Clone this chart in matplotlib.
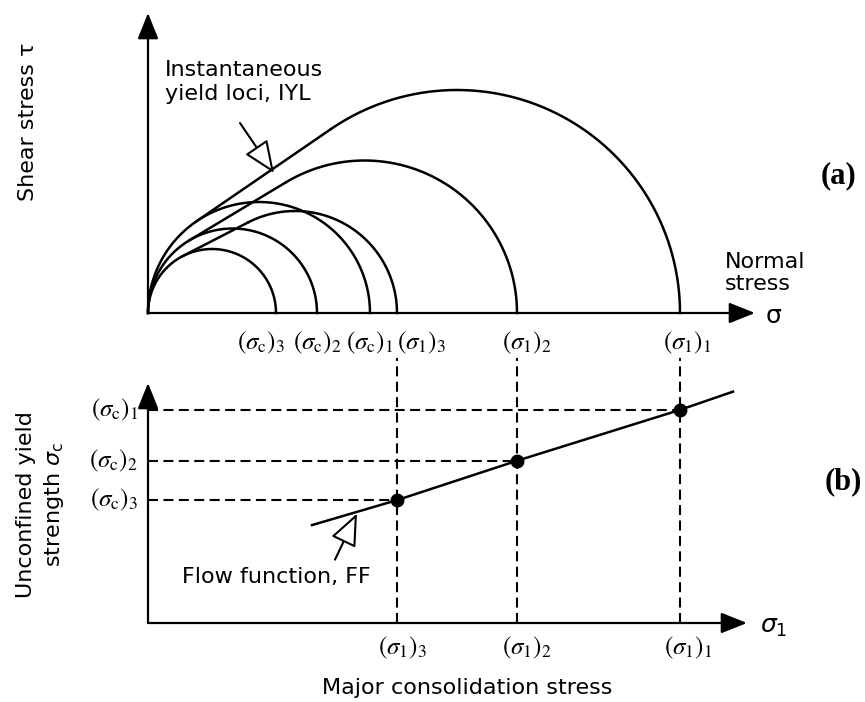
import numpy as np
import matplotlib
matplotlib.use("Agg")
import matplotlib.pyplot as plt

# ---------------- data (arbitrary stress units) ----------------
idx = ["1", "2", "3"]
sigma_c = [22.2, 16.9, 12.8]        # unconfined yield strengths (σc)1..3
sigma_1 = [53.2, 36.9, 24.9]        # major consolidation stresses (σ1)1..3
sigma_minor = [8.6, 6.4, 4.5]       # minor principal stress of consolidation circles
ff_sigma_1 = [16.4, 24.9, 36.9, 53.2, 58.5]   # flow function line
ff_sigma_c = [10.2, 12.8, 16.9, 22.2, 24.1]

W, H = 865, 702
plt.rcParams["font.family"] = ["DejaVu Sans"]
fig = plt.figure(figsize=(W / 100, H / 100), dpi=100)

# top axes: 10 px per unit, origin at px (148, 313)
axa = fig.add_axes([0, 1 - 350 / H, 1, 350 / H])
axa.set_xlim(-14.8, (W - 148) / 10)
axa.set_ylim((313 - 350) / 10, 313 / 10)
axa.axis("off")

# bottom axes: x 10 px per unit, y 9.6 px per unit, origin at px (148, 623)
axb = fig.add_axes([0, 0, 1, 352 / H])
axb.set_xlim(-14.8, (W - 148) / 10)
axb.set_ylim((623 - 702) / 9.6, (623 - 350) / 9.6)
axb.axis("off")

LW = 1.8
K = "black"
LABFS = 18


def axis_arrow(ax, x0, y0, x1, y1):
    ax.annotate("", xy=(x1, y1), xytext=(x0, y0),
                arrowprops=dict(arrowstyle="-|>,head_length=0.8,head_width=0.32",
                                mutation_scale=20, lw=1.6, color=K,
                                shrinkA=0, shrinkB=0))


def hollow_arrow(ax, x0, y0, x1, y1):
    ax.annotate("", xy=(x1, y1), xytext=(x0, y0),
                arrowprops=dict(arrowstyle="-|>,head_length=1.0,head_width=0.42",
                                mutation_scale=20, lw=1.5, fc="white", ec=K,
                                shrinkA=0, shrinkB=0))


def ftext(px, py, s, **kw):
    fig.text(px / W, 1 - py / H, s, **kw)


# ---------------- (a) Mohr circles and yield loci ----------------
for i in range(3):
    c1, r1 = sigma_c[i] / 2, sigma_c[i] / 2
    c2 = (sigma_minor[i] + sigma_1[i]) / 2
    r2 = (sigma_1[i] - sigma_minor[i]) / 2
    # common upper tangent of the two circles (instantaneous yield locus)
    X = (c1 * r2 - c2 * r1) / (r2 - r1)
    s = r1 / (c1 - X)
    co = np.sqrt(1 - s ** 2)
    p1 = (c1 - r1 * s, r1 * co)
    p2 = (c2 - r2 * s, r2 * co)
    # unconfined yield circle (full)
    th = np.linspace(0, np.pi, 400)
    axa.plot(c1 + r1 * np.cos(th), r1 * np.sin(th), color=K, lw=LW)
    # consolidation circle, drawn from the tangent point to sigma_1
    th2 = np.linspace(0, np.arccos(-s), 400)
    axa.plot(c2 + r2 * np.cos(th2), r2 * np.sin(th2), color=K, lw=LW)
    axa.plot([p1[0], p2[0]], [p1[1], p2[1]], color=K, lw=LW)

axis_arrow(axa, 0, 0, 60.7, 0)
axis_arrow(axa, 0, 0, 0, 30.0)

hollow_arrow(axa, 9.2, 19.0, 12.6, 14.0)

top_lab_off = {("c", 0): 0.0, ("c", 1): 0.0, ("c", 2): -1.5,
               ("1", 0): 0.7, ("1", 1): 1.0, ("1", 2): 2.4}
for i in range(3):
    axa.text(sigma_c[i] + top_lab_off[("c", i)], -3.0,
             r"$(\sigma_\mathrm{c})_%s$" % idx[i], ha="center", va="center",
             fontsize=LABFS, math_fontfamily="stix")
    axa.text(sigma_1[i] + top_lab_off[("1", i)], -3.0,
             r"$(\sigma_1)_%s$" % idx[i], ha="center", va="center",
             fontsize=LABFS, math_fontfamily="stix")

ftext(165, 82, "Instantaneous\nyield loci, IYL", fontsize=16, ha="left",
      va="center", linespacing=1.25)
ftext(28, 122, "Shear stress \u03c4", fontsize=16, rotation=90, ha="center", va="center")
ftext(725, 273, "Normal\nstress", fontsize=16, ha="left", va="center", linespacing=1.15)
ftext(766, 316, "\u03c3", fontsize=18, ha="left", va="center")
ftext(839, 176, "(a)", fontsize=22, fontweight="bold", family="Liberation Serif",
      ha="center", va="center")

# ---------------- (b) flow function ----------------
for i in range(3):
    axb.plot([sigma_1[i], sigma_1[i]], [0, 27.6], color=K, lw=1.5,
             linestyle=(0, (4.8, 2.6)))
    axb.plot([0, sigma_1[i]], [sigma_c[i], sigma_c[i]], color=K, lw=1.5,
             linestyle=(0, (4.8, 2.6)))

axb.plot(ff_sigma_1, ff_sigma_c, color=K, lw=LW)
axb.plot(sigma_1, sigma_c, "o", color=K, ms=9)

axis_arrow(axb, 0, 0, 59.9, 0)
axis_arrow(axb, 0, 0, 0, 25.0)

hollow_arrow(axb, 18.7, 6.6, 20.9, 11.4)

bot_lab_off = [0.8, 1.0, 0.5]
for i in range(3):
    axb.text(sigma_1[i] + bot_lab_off[i], -2.6, r"$(\sigma_1)_%s$" % idx[i],
             ha="center", va="center", fontsize=LABFS, math_fontfamily="stix")
    axb.text(-1.0, sigma_c[i], r"$(\sigma_\mathrm{c})_%s$" % idx[i], ha="right",
             va="center", fontsize=LABFS, math_fontfamily="stix")

ftext(276, 577, "Flow function, FF", fontsize=16, ha="center", va="center")
ftext(467, 688, "Major consolidation stress", fontsize=16, ha="center", va="center")
ftext(41, 505, "Unconfined yield\nstrength $\\sigma_\\mathrm{c}$", fontsize=16, rotation=90,
      ha="center", va="center", linespacing=1.3, math_fontfamily="dejavusans")
ftext(760, 627, "$\\sigma_1$", fontsize=18, ha="left", va="center",
      math_fontfamily="dejavusans")
ftext(843, 482, "(b)", fontsize=22, fontweight="bold", family="Liberation Serif",
      ha="center", va="center")

fig.savefig("out.png", dpi=100)
